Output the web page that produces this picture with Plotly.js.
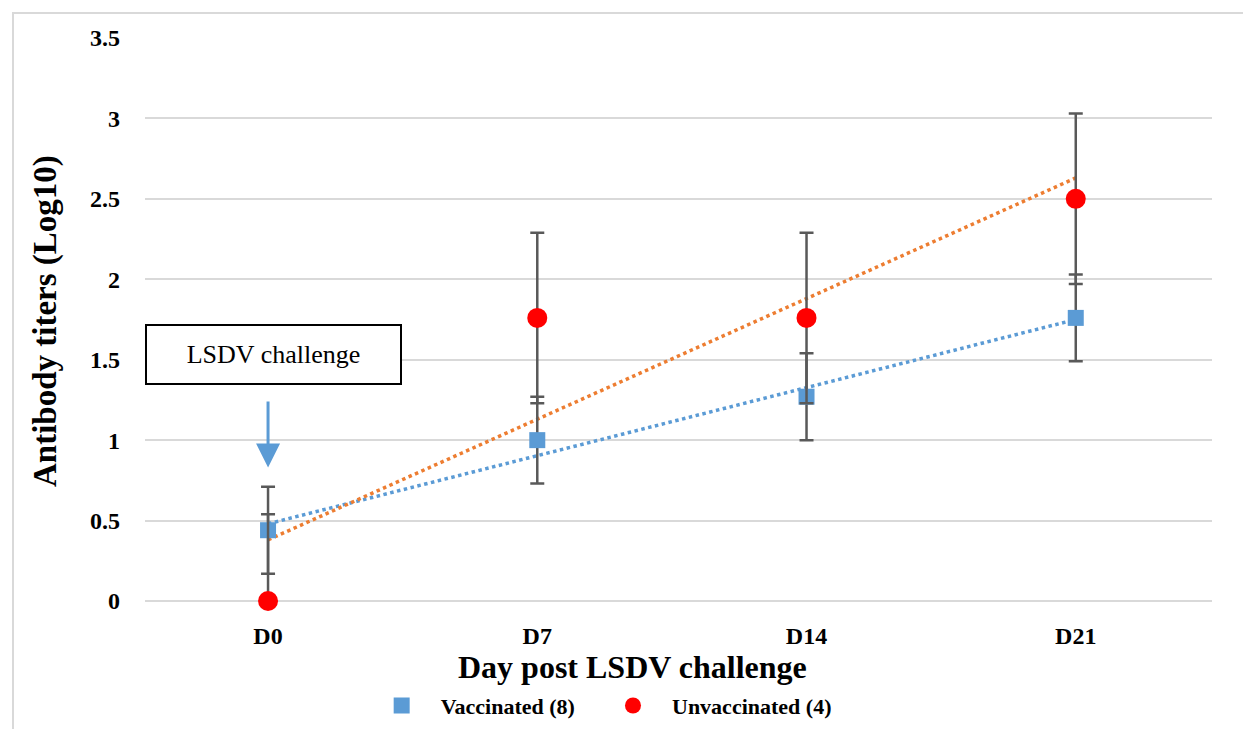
<!DOCTYPE html>
<html>
<head>
<meta charset="utf-8">
<script src="https://cdn.plot.ly/plotly-3.0.1.min.js"></script>
<style>
  html, body { margin: 0; padding: 0; background: #fff; }
  #frame { position: absolute; left: 12px; top: 12px; width: 1231px; height: 717px;
           border-left: 2px solid #d9d9d9; border-top: 2px solid #d9d9d9; pointer-events: none; z-index: 5; }
  #chart { position: absolute; left: 0; top: 0; width: 1243px; height: 729px; }
</style>
</head>
<body>
<div id="chart"></div>
<div id="frame"></div>
<script>
// ---- data ----
const categories = ["D0", "D7", "D14", "D21"];
const catIndex = [0, 1, 2, 3];

const vaccinatedName = "Vaccinated (8)";
const vaccinated = [0.44, 1.00, 1.27, 1.76];
const vaccinatedErr = [0.27, 0.27, 0.27, 0.27];

const unvaccinatedName = "Unvaccinated (4)";
const unvaccinated = [0.00, 1.76, 1.76, 2.50];
const unvaccinatedErrPlus = [0.54, 0.53, 0.53, 0.53];
const unvaccinatedErrMinus = [0.00, 0.53, 0.53, 0.53];

// linear trendlines (values at D0 and D21)
const trendX = [0, 3];
const vaccinatedTrend = [0.48, 1.75];
const unvaccinatedTrend = [0.38, 2.63];

const yTicks = [0, 0.5, 1, 1.5, 2, 2.5, 3, 3.5];
const yTickText = ["0", "0.5", "1", "1.5", "2", "2.5", "3", "3.5"];

const serif = "Liberation Serif";
const errColor = "#595959";
const blue = "#5b9bd5";
const orange = "#ed7d31";

const traces = [
  { x: trendX, y: vaccinatedTrend, mode: "lines", showlegend: false, hoverinfo: "skip",
    line: { color: blue, width: 3.5, dash: "dot" } },
  { x: trendX, y: unvaccinatedTrend, mode: "lines", showlegend: false, hoverinfo: "skip",
    line: { color: orange, width: 3.5, dash: "dot" } },
  { x: catIndex, y: vaccinated, name: vaccinatedName, mode: "markers", cliponaxis: false,
    legend: "legend",
    marker: { symbol: "square", size: 16, color: blue },
    error_y: { type: "data", array: vaccinatedErr, visible: true, color: errColor, thickness: 2.5, width: 7 } },
  { x: catIndex, y: unvaccinated, name: unvaccinatedName, mode: "markers", cliponaxis: false,
    legend: "legend2",
    marker: { symbol: "circle", size: 20, color: "#ff0000" },
    error_y: { type: "data", symmetric: false, array: unvaccinatedErrPlus, arrayminus: unvaccinatedErrMinus,
               visible: true, color: errColor, thickness: 2.5, width: 7 } }
];

const legendFont = { family: serif, size: 22, color: "#000", weight: "bold" };

const layout = {
  width: 1243, height: 729,
  margin: { l: 145, r: 31, t: 38, b: 128, autoexpand: false },
  paper_bgcolor: "#fff", plot_bgcolor: "#fff",
  showlegend: true,
  font: { family: serif, color: "#000" },
  xaxis: {
    range: [-0.457, 3.506],
    tickmode: "array", tickvals: catIndex, ticktext: categories,
    tickfont: { family: serif, size: 24, color: "#000", weight: "bold" },
    showgrid: false, zeroline: false, showline: false, ticks: "",
    ticklabelstandoff: 18
  },
  yaxis: {
    range: [0, 3.5],
    tickmode: "array", tickvals: yTicks, ticktext: yTickText,
    tickfont: { family: serif, size: 24, color: "#000", weight: "bold" },
    showgrid: true, gridcolor: "#d9d9d9", gridwidth: 2,
    zeroline: true, zerolinecolor: "#d9d9d9", zerolinewidth: 2,
    showline: false, ticks: "", ticklabelstandoff: 24
  },
  legend: {
    orientation: "h", x: 0.204, xanchor: "left", y: -0.186, yanchor: "middle",
    font: legendFont, itemwidth: 68, bgcolor: "rgba(0,0,0,0)"
  },
  legend2: {
    orientation: "h", x: 0.4208, xanchor: "left", y: -0.186, yanchor: "middle",
    font: legendFont, itemwidth: 68, bgcolor: "rgba(0,0,0,0)"
  },
  annotations: [
    { text: "Day post LSDV challenge", xref: "paper", yref: "paper",
      x: (632 - 145) / 1067, y: -0.117, xanchor: "center", yanchor: "middle", showarrow: false,
      font: { family: serif, size: 32, color: "#000", weight: "bold" } },
    { text: "Antibody titers (Log10)", xref: "paper", yref: "paper", textangle: -90,
      x: (46 - 145) / 1067, y: (601 - 321) / 563, xanchor: "center", yanchor: "middle", showarrow: false,
      font: { family: serif, size: 33, color: "#000", weight: "bold" } },
    { text: "LSDV challenge", xref: "paper", yref: "y", x: 0, y: 1.532,
      xanchor: "left", yanchor: "middle", showarrow: false,
      width: 251, height: 55, align: "center", valign: "middle",
      bordercolor: "#000", borderwidth: 2, bgcolor: "#fff",
      font: { family: serif, size: 26, color: "#000" } },
    { text: "", xref: "x", yref: "y", x: 0, y: 0.83, axref: "x", ayref: "y", ax: 0, ay: 1.25,
      showarrow: true, arrowcolor: blue, arrowwidth: 3, arrowhead: 2, arrowsize: 1.6 }
  ]
};

Plotly.newPlot("chart", traces, layout, { displayModeBar: false, staticPlot: true });
</script>
</body>
</html>
